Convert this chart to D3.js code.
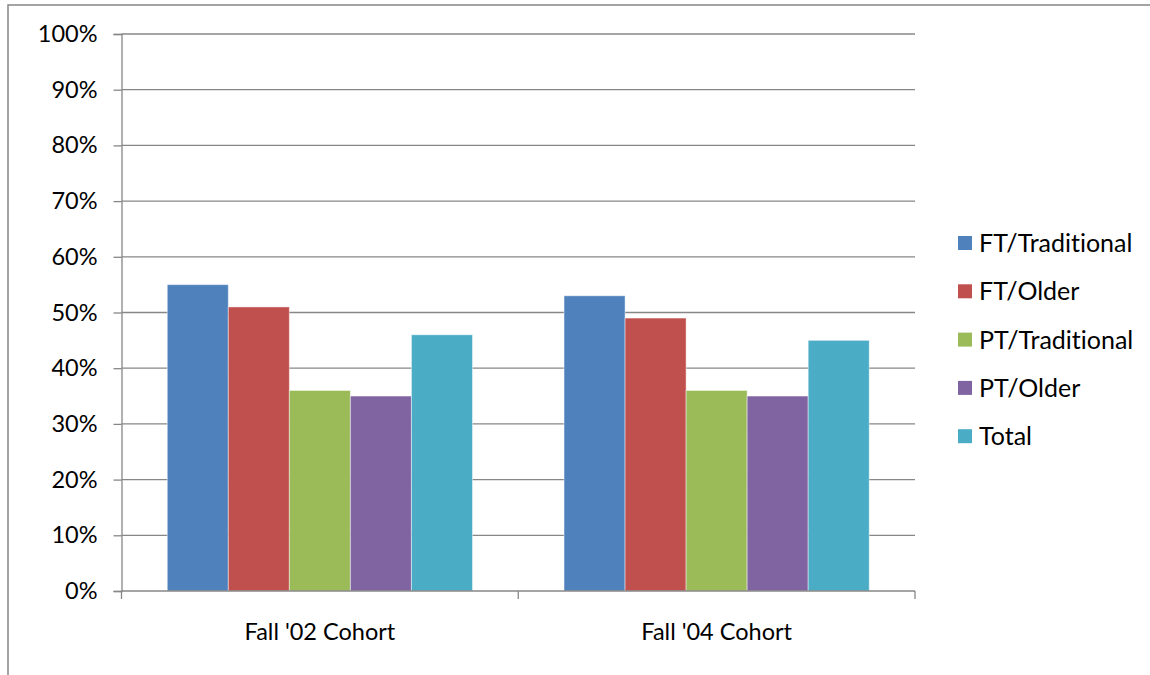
<!DOCTYPE html>
<html><head><meta charset="utf-8">
<script src="https://cdn.jsdelivr.net/npm/d3@7"></script>
<style>html,body{margin:0;padding:0;background:#fff;}svg{display:block;}text{font-variant-ligatures:none;font-feature-settings:"liga" 0;}</style>
</head><body>
<svg id="chart" width="1150" height="675"></svg>
<script>
const categories = ["Fall '02 Cohort", "Fall '04 Cohort"];
const seriesNames = ["FT/Traditional", "FT/Older", "PT/Traditional", "PT/Older", "Total"];
const seriesColors = ["#4F81BD", "#C0504D", "#9BBB59", "#8064A2", "#4BACC6"];
const values = [
  [55, 53],   // FT/Traditional
  [51, 49],   // FT/Older
  [36, 36],   // PT/Traditional
  [35, 35],   // PT/Older
  [46, 45]    // Total
];
const yTicks = [0, 10, 20, 30, 40, 50, 60, 70, 80, 90, 100];

const font = "Lato, 'Open Sans', sans-serif";
const fs = 23.5;
const svg = d3.select("#chart");
const m = {left: 121.5, right: 915, top: 34, bottom: 591};
const grey = "#878787";

// outer frame
svg.append("rect").attr("x", 8).attr("y", 5).attr("width", 1200).attr("height", 700)
  .attr("fill", "none").attr("stroke", grey).attr("stroke-width", 1.5);

const y = d3.scaleLinear().domain([0, 100]).range([m.bottom, m.top]);
const x0 = d3.scaleBand().domain(categories).range([m.left, m.right]).padding(0);
const x1 = d3.scaleBand().domain(seriesNames).range([0, x0.bandwidth()]).paddingInner(0).paddingOuter(0.75);

// gridlines
svg.append("g").selectAll("line").data(yTicks.filter(t => t > 0)).join("line")
  .attr("x1", m.left).attr("x2", m.right)
  .attr("y1", d => y(d)).attr("y2", d => y(d))
  .attr("stroke", grey).attr("stroke-width", 1.3);

// y axis
const yAxis = d3.axisLeft(y).tickValues(yTicks).tickFormat(d => d + "%").tickSize(8).tickPadding(16);
const gy = svg.append("g").attr("transform", `translate(${m.left},0)`).call(yAxis);
gy.select(".domain").attr("stroke", grey).attr("stroke-width", 1.3);
gy.selectAll(".tick line").attr("stroke", grey).attr("stroke-width", 1.3);
gy.selectAll("text").attr("font-family", font).attr("font-size", fs).attr("fill", "#000");

// bars
const groups = svg.append("g").selectAll("g").data(categories).join("g")
  .attr("transform", d => `translate(${x0(d)},0)`);
groups.selectAll("rect").data((c, ci) => seriesNames.map((s, si) => ({s, si, v: values[si][ci]}))).join("rect")
  .attr("x", d => x1(d.s)).attr("width", x1.bandwidth())
  .attr("y", d => y(d.v)).attr("height", d => y(0) - y(d.v))
  .attr("fill", d => seriesColors[d.si])
  .attr("stroke", "rgba(255,255,255,0.45)").attr("stroke-width", 1);

// x axis
const xAxis = d3.axisBottom(x0).tickSize(0).tickPadding(30);
const gx = svg.append("g").attr("transform", `translate(0,${m.bottom})`).call(xAxis);
gx.select(".domain").remove();
gx.append("line").attr("x1", m.left).attr("x2", m.right).attr("stroke", grey).attr("stroke-width", 1.5);
const xTickPos = [m.left, ...categories.map(c => x0(c) + x0.bandwidth())];
gx.selectAll("line.xt").data(xTickPos).join("line").attr("class", "xt")
  .attr("x1", d => d).attr("x2", d => d).attr("y1", 0).attr("y2", 8)
  .attr("stroke", grey).attr("stroke-width", 1.3);
gx.selectAll(".tick text").attr("font-family", font).attr("font-size", fs).attr("fill", "#000")
  .attr("y", 49).attr("dy", 0);

// legend
const lg = svg.append("g").attr("transform", "translate(958,243)");
const items = lg.selectAll("g").data(seriesNames).join("g")
  .attr("transform", (d, i) => `translate(0,${i * 48.3})`);
items.append("rect").attr("x", 0).attr("y", -7).attr("width", 14).attr("height", 14)
  .attr("fill", (d, i) => seriesColors[i]);
items.append("text").attr("x", 21).attr("y", 0).attr("dy", "0.36em")
  .attr("font-family", font).attr("font-size", 25).attr("fill", "#000").text(d => d);
</script>
</body></html>
